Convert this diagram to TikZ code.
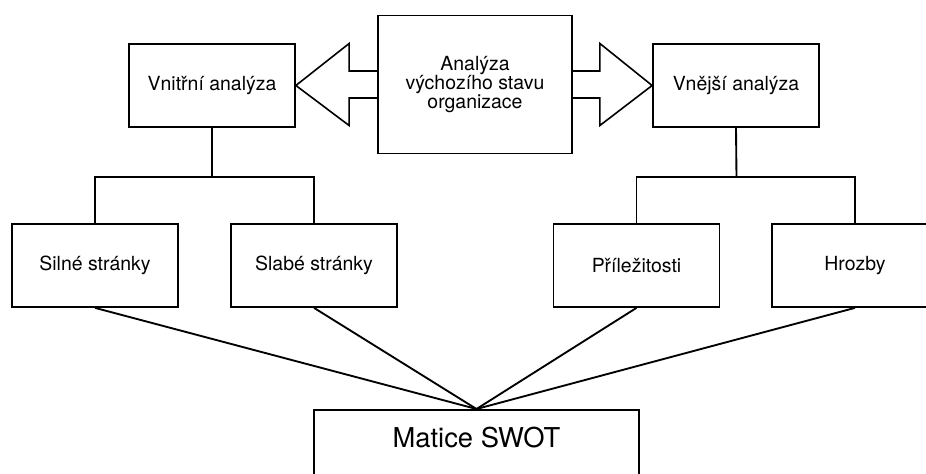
\documentclass[tikz,border=0pt]{standalone}
\usepackage{fontspec}
\setmainfont{TeX Gyre Heros}
\usetikzlibrary{calc}
\tikzset{
	kvadr/.style={draw, line width=1.3pt, minimum width=124.5pt, minimum height=62.25pt, inner sep=0pt, align=center, font=\fontsize{14.6}{14.5}\selectfont},
	spoj/.style={line width=1.4pt},
	sipka/.style={line width=1.2pt, line join=miter},
}

\begin{document}
\begin{tikzpicture}[x=0.75pt, y=-0.75pt]
			%%%%% START %%%%%
			
			\useasboundingbox (0, 0) rectangle (926, 474);
			
			\node[kvadr] (vnitrni) at (212, 85.5) {Vnitřní analýza};
			\node[kvadr, minimum width=145.5pt, minimum height=103.5pt] (vychozi) at (475, 84.5) {Analýza\\výchozího stavu\\organizace};
			\node[kvadr] (vnejsi) at (736, 85.5) {Vnější analýza};
			
			\draw[sipka] ($(vychozi.west)+(0,-13.5)$) -- ++(-28,0) -- ++(0,-27.5) -- (vnitrni.east) -- ($(vychozi.west)+(-28,41)$) -- ++(0,-27.5) -- ($(vychozi.west)+(0,13.5)$);
			\draw[sipka] ($(vychozi.east)+(0,-13.5)$) -- ++(27,0) -- ++(0,-27.5) -- (vnejsi.west) -- ($(vychozi.east)+(27,41)$) -- ++(0,-27.5) -- ($(vychozi.east)+(0,13.5)$);
			
			\node[kvadr] (silne) at (95, 265.5) {Silné stránky};
			\node[kvadr] (slabe) at (314, 265.5) {Slabé stránky};
			\node[kvadr] (prilez) at (636.5, 265.5) {Příležitosti};
			\node[kvadr] (hrozby) at (855, 265.5) {Hrozby};
			
			\coordinate (lfork) at (212, 177);
			\coordinate (rfork) at (736.5, 177);
			\draw[spoj] (vnitrni.south) -- (lfork);
			\draw[spoj] (silne.north) |- (lfork) -| (slabe.north);
			\draw[spoj] (vnejsi.south) -- (rfork);
			\draw[spoj] (prilez.north) |- (rfork) -| (hrozby.north);
			
			\node[kvadr, anchor=north, minimum width=243.75pt, inner ysep=13pt, text depth=70pt, font=\fontsize{20.5}{24}\selectfont] (swot) at (476.5, 409) {Matice SWOT};
			
			\foreach \n in {silne, slabe, prilez, hrozby}
				\draw[spoj] (\n.south) -- (swot.north);
			
			%%%%% END %%%%%
\end{tikzpicture}
\end{document}
